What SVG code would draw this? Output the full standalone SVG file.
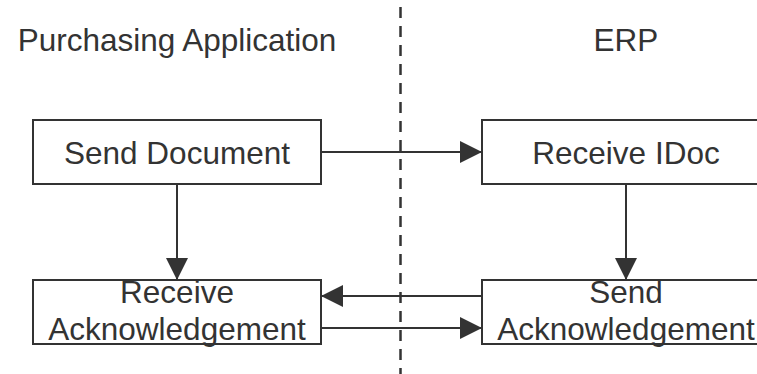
<svg xmlns="http://www.w3.org/2000/svg" width="757" height="374" viewBox="0 0 757 374">
  <style>
    .box { fill: #ffffff; stroke: #333333; stroke-width: 2; }
    .lbl { font-family: "Liberation Sans", Arial, sans-serif; font-size: 31.5px; fill: #333333; text-anchor: middle; }
    .edge { fill: none; stroke: #333333; stroke-width: 2; }
    .lane { fill: none; stroke: #333333; stroke-width: 2.5; stroke-dasharray: 11 8; }
  </style>
  <defs>
    <marker id="arrow" markerWidth="22" markerHeight="22" refX="22" refY="11" orient="auto" markerUnits="userSpaceOnUse">
      <path d="M0,0 L22,11 L0,22 Z" fill="#333333"/>
    </marker>
  </defs>
  <rect width="757" height="374" fill="#ffffff"/>

  <!-- swimlane divider and lane titles -->
  <line class="lane" x1="400.5" y1="7" x2="400.5" y2="374"/>
  <text class="lbl" x="177" y="51">Purchasing Application</text>
  <text class="lbl" x="626" y="51">ERP</text>

  <g id="connectors">
    <line class="edge" x1="321" y1="152" x2="482" y2="152" marker-end="url(#arrow)"/>
    <line class="edge" x1="177" y1="184" x2="177" y2="280" marker-end="url(#arrow)"/>
    <line class="edge" x1="626" y1="184" x2="626" y2="280" marker-end="url(#arrow)"/>
    <line class="edge" x1="482" y1="296" x2="321" y2="296" marker-end="url(#arrow)"/>
    <line class="edge" x1="321" y1="328" x2="482" y2="328" marker-end="url(#arrow)"/>
  </g>

  <g id="send-document">
    <rect class="box" x="33" y="120" width="288" height="64"/>
    <text class="lbl" x="177" y="164">Send Document</text>
  </g>

  <g id="receive-idoc">
    <rect class="box" x="482" y="120" width="288" height="64"/>
    <text class="lbl" x="626" y="164">Receive IDoc</text>
  </g>

  <g id="receive-acknowledgement">
    <rect class="box" x="33" y="280" width="288" height="64"/>
    <text class="lbl" x="177" y="303">Receive</text>
    <text class="lbl" x="177" y="340">Acknowledgement</text>
  </g>

  <g id="send-acknowledgement">
    <rect class="box" x="482" y="280" width="288" height="64"/>
    <text class="lbl" x="626" y="303">Send</text>
    <text class="lbl" x="626" y="340">Acknowledgement</text>
  </g>
</svg>
